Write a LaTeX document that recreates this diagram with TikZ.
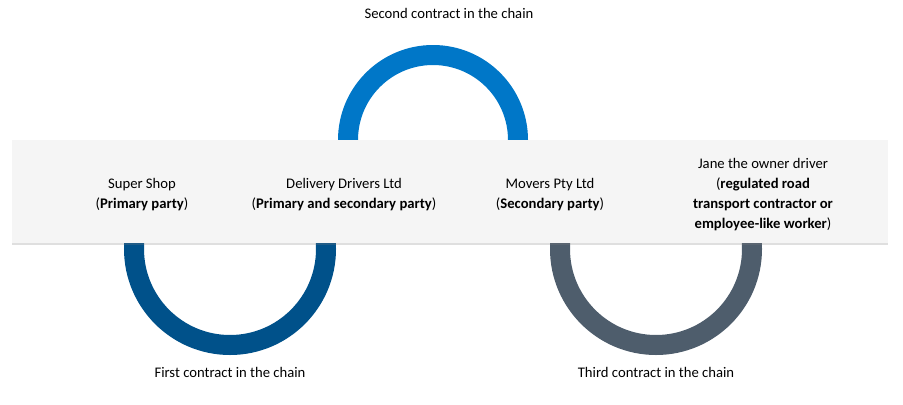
\documentclass[tikz,border=0pt]{standalone}
\usepackage{fontspec}
\setmainfont{Carlito}
\usetikzlibrary{shadows}
\definecolor{ringtop}{HTML}{0077C8}
\definecolor{ringleft}{HTML}{00518A}
\definecolor{ringright}{HTML}{4E5D6C}
\definecolor{bandgray}{HTML}{F5F5F5}
\begin{document}
\begin{tikzpicture}[x=0.75pt, y=-0.75pt,
    ring/.style={line width=15pt},
    party/.style={align=center, font=\fontsize{11}{15}\selectfont},
    chain/.style={font=\fontsize{11}{13}\selectfont}]
    \useasboundingbox (0,0) rectangle (903,404);

    % Rings
    \draw[ring, ringtop] (433,140) circle (85);
    \draw[ring, ringleft] (230,249) circle (96);
    \draw[ring, ringright] (656,249) circle (96);

    % Band
    \fill[bandgray, drop shadow={opacity=0.25, shadow xshift=0pt, shadow yshift=-1.5pt}]
        (12,140) rectangle (888,243);

    % Parties
    \node[party] (shop) at (142,195) {Super Shop\\(\textbf{Primary party})};
    \node[party] (drivers) at (344,195) {Delivery Drivers Ltd\\(\textbf{Primary and secondary party})};
    \node[party] (movers) at (550,195) {Movers Pty Ltd\\(\textbf{Secondary party})};
    \node[party] (jane) at (763,195) {Jane the owner driver\\(\textbf{regulated road}\\\textbf{transport contractor or}\\\textbf{employee-like worker})};

    % Contract labels
    \node[chain] (second) at (449,13) {Second contract in the chain};
    \node[chain] (first) at (230,372) {First contract in the chain};
    \node[chain] (third) at (656,372) {Third contract in the chain};
\end{tikzpicture}
\end{document}
